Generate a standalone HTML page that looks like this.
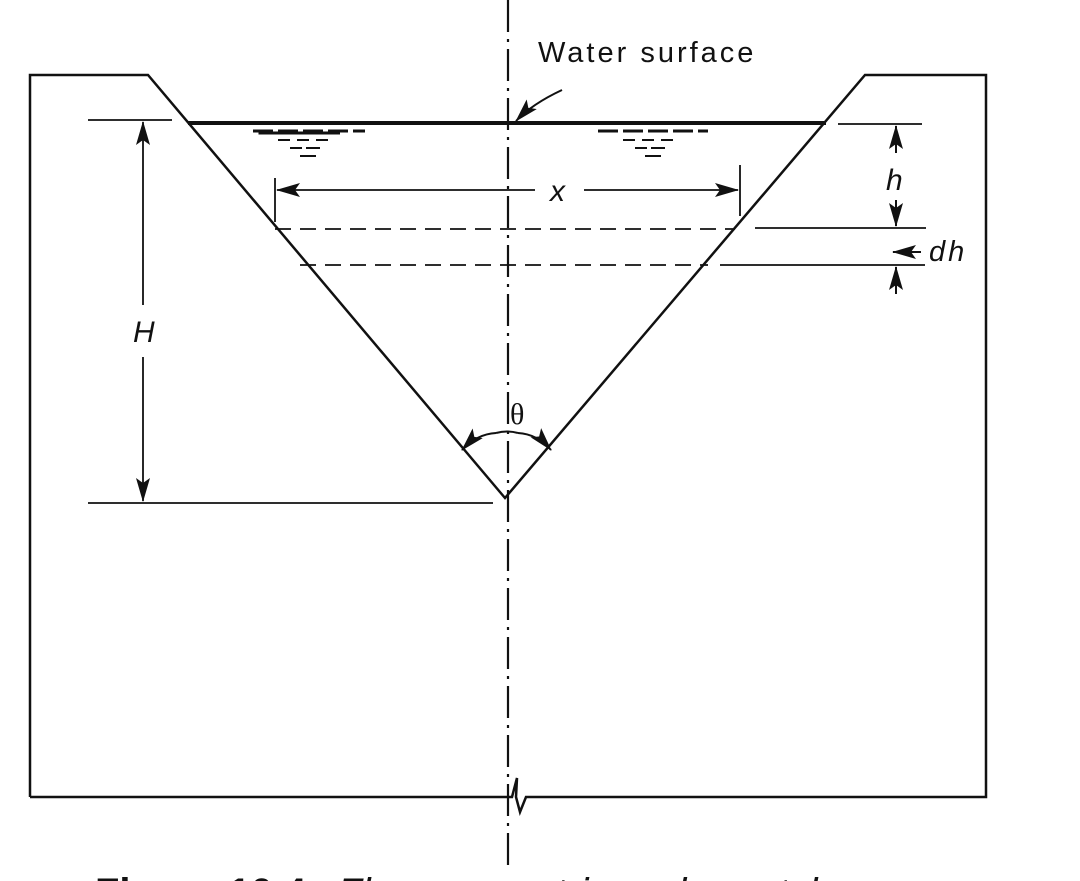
<!DOCTYPE html>
<html><head><meta charset="utf-8"><style>
html,body{margin:0;padding:0;background:#fff;}
svg{display:block;}
text{font-family:"Liberation Sans",Arial,sans-serif;fill:#111;}
</style></head><body>
<svg width="1080" height="881" viewBox="0 0 1080 881">
<defs>
<marker id="ahb" markerWidth="24" markerHeight="14" refX="23" refY="7" orient="auto" markerUnits="userSpaceOnUse" viewBox="0 0 24 14">
<path d="M0,0 L24,7 L0,14 L5,7 Z" fill="#111"/></marker>
</defs>
<g stroke="#111" fill="none">
<path d="M30,797 L30,75 L148,75 L505,498 L865,75 L986,75 L986,797 L526,797 L520,812 L516,797 L517,778 L512,797 L30,797" stroke-width="2.5"/>
<line x1="508" y1="0" x2="508" y2="865" stroke-width="2.2" stroke-dasharray="32,7,3,7"/>
<line x1="188" y1="123" x2="826" y2="123" stroke-width="4"/>
<g stroke-width="2">
<path d="M253,131 h20 M278,131 h20 M303,131 h20 M328,131 h20 M353,131 h12 M260,131 v2 h80" stroke-width="3"/>
<path d="M278,140 h12 M297,140 h12 M316,140 h12" />
<path d="M290,148 h12 M306,148 h14"/>
<path d="M300,156 h16"/>
</g>
<g stroke-width="2">
<path d="M598,131 h20 M623,131 h20 M648,131 h20 M673,131 h20 M698,131 h10" stroke-width="3"/>
<path d="M623,140 h12 M642,140 h12 M661,140 h12"/>
<path d="M635,148 h12 M651,148 h14"/>
<path d="M645,156 h16"/>
</g>
<line x1="88" y1="120" x2="172" y2="120" stroke-width="1.8"/>
<line x1="88" y1="503" x2="493" y2="503" stroke-width="1.8"/>
<line x1="143" y1="305" x2="143" y2="122" stroke-width="1.8" marker-end="url(#ahb)"/>
<line x1="143" y1="357" x2="143" y2="501" stroke-width="1.8" marker-end="url(#ahb)"/>
<line x1="275" y1="178" x2="275" y2="222" stroke-width="1.8"/>
<line x1="740" y1="165" x2="740" y2="216" stroke-width="1.8"/>
<line x1="535" y1="190" x2="277" y2="190" stroke-width="1.8" marker-end="url(#ahb)"/>
<line x1="584" y1="190" x2="738" y2="190" stroke-width="1.8" marker-end="url(#ahb)"/>
<line x1="275" y1="229" x2="735" y2="229" stroke-width="1.8" stroke-dasharray="16,9"/>
<line x1="300" y1="265" x2="708" y2="265" stroke-width="1.8" stroke-dasharray="16,9"/>
<line x1="838" y1="124" x2="922" y2="124" stroke-width="1.8"/>
<line x1="755" y1="228" x2="926" y2="228" stroke-width="1.8"/>
<line x1="720" y1="265" x2="925" y2="265" stroke-width="1.8"/>
<line x1="896" y1="153" x2="896" y2="126" stroke-width="2" marker-end="url(#ahb)"/>
<line x1="896" y1="200" x2="896" y2="226" stroke-width="2" marker-end="url(#ahb)"/>
<line x1="921" y1="252" x2="893" y2="252" stroke-width="2" marker-end="url(#ahb)"/>
<line x1="896" y1="294" x2="896" y2="267" stroke-width="2" marker-end="url(#ahb)"/>
<path d="M496,433 Q477,434 462,450" stroke-width="2" marker-end="url(#ahb)"/>
<path d="M518,433 Q537,434 551,450" stroke-width="2" marker-end="url(#ahb)"/>
<path d="M496,433 Q507,430 518,433" stroke-width="2"/>
<path d="M562,90 Q532,104 516,121" stroke-width="2" marker-end="url(#ahb)"/>
</g>
<text x="538" y="62" font-size="29" letter-spacing="3">Water surface</text>
<text x="550" y="201" font-size="30" font-style="italic">x</text>
<text x="133" y="342" font-size="30" font-style="italic">H</text>
<text x="886" y="190" font-size="30" font-style="italic">h</text>
<text x="929" y="261" font-size="29" font-style="italic" letter-spacing="3">dh</text>
<text x="510" y="424" font-size="30" style="font-family:'Liberation Serif',serif">θ</text>
<text x="95" y="906" font-size="40" font-weight="bold">Figure 10.4 <tspan font-weight="normal" font-style="italic" dx="20">Flow over a triangular notch</tspan></text>
</svg>
</body></html>
